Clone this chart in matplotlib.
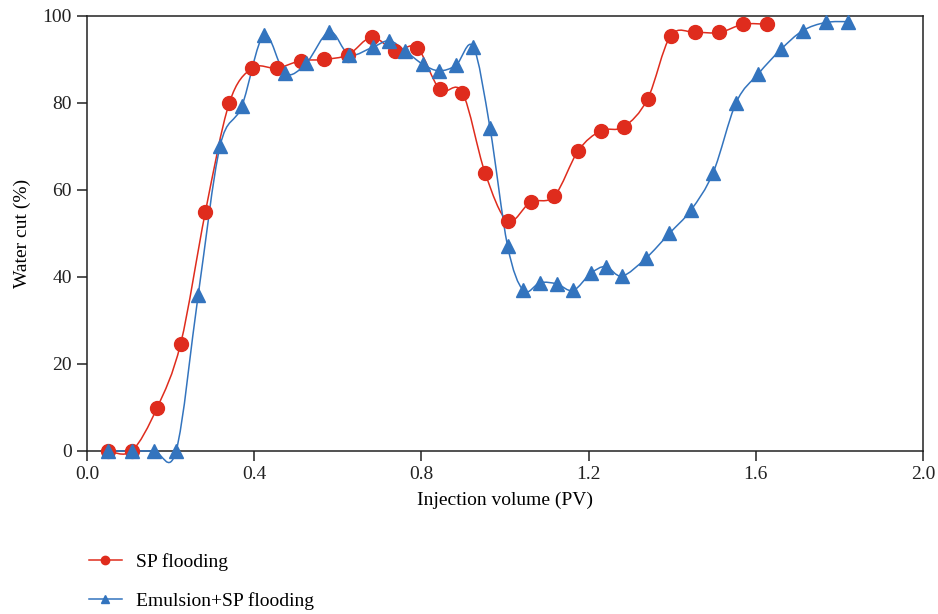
import matplotlib
matplotlib.use("Agg")
import matplotlib.pyplot as plt
import numpy as np
from matplotlib.lines import Line2D
from matplotlib.patches import PathPatch
from matplotlib.path import Path

plt.rcParams["font.family"] = ["Liberation Serif", "DejaVu Serif"]

sp_x = [0.051, 0.107, 0.167, 0.224, 0.283, 0.340, 0.395, 0.454, 0.511, 0.567, 0.625,
        0.681, 0.737, 0.790, 0.844, 0.898, 0.952, 1.006, 1.061, 1.118, 1.175, 1.229,
        1.284, 1.341, 1.396, 1.455, 1.513, 1.570, 1.626]
sp_y = [0.0, 0.0, 9.8, 24.7, 54.9, 79.9, 88.0, 88.0, 89.7, 90.0, 91.1,
        95.1, 92.0, 92.7, 83.1, 82.4, 64.0, 52.9, 57.2, 58.6, 69.0, 73.6,
        74.5, 80.9, 95.4, 96.2, 96.2, 98.1, 98.1]

em_x = [0.051, 0.107, 0.161, 0.213, 0.266, 0.318, 0.370, 0.423, 0.474, 0.524, 0.580,
        0.627, 0.683, 0.723, 0.761, 0.803, 0.842, 0.883, 0.924, 0.964, 1.006, 1.044,
        1.084, 1.124, 1.163, 1.205, 1.241, 1.280, 1.337, 1.393, 1.445, 1.498, 1.553,
        1.606, 1.660, 1.712, 1.767, 1.821]
em_y = [0.0, 0.0, 0.0, 0.0, 35.9, 70.0, 79.2, 95.6, 86.8, 89.1, 96.4,
        91.1, 92.8, 94.3, 92.0, 88.9, 87.4, 88.7, 92.9, 74.3, 47.2, 36.9,
        38.7, 38.4, 36.9, 40.8, 42.4, 40.2, 44.3, 50.0, 55.4, 64.0, 80.1,
        86.7, 92.3, 96.6, 98.5, 98.7]

labels = ["SP flooding", "Emulsion+SP flooding"]
red = "#DF2C1D"
blue = "#3374BE"


def smooth_path(x, y):
    pts = np.column_stack([x, y])
    n = len(pts)
    verts = [pts[0]]
    codes = [Path.MOVETO]
    for i in range(n - 1):
        p0 = pts[max(i - 1, 0)]
        p1 = pts[i]
        p2 = pts[i + 1]
        p3 = pts[min(i + 2, n - 1)]
        verts += [p1 + (p2 - p0) / 6, p2 - (p3 - p1) / 6, p2]
        codes += [Path.CURVE4] * 3
    return Path(verts, codes)


fig = plt.figure(figsize=(9.38, 6.14), dpi=100)
ax = fig.add_axes([0.0928, 0.2655, 0.8912, 0.7085])

for x, y, c, m, ms in [(sp_x, sp_y, red, "o", 10), (em_x, em_y, blue, "^", 10.5)]:
    ax.add_patch(PathPatch(smooth_path(x, y), facecolor="none", edgecolor=c,
                           lw=1.1, clip_on=False, zorder=3))
    ax.plot(x, y, ls="none", marker=m, ms=ms, color=c, mec=c, clip_on=False, zorder=4)

ax.set_xlim(0, 2.0)
ax.set_ylim(0, 100)
ax.set_xticks(np.arange(0, 2.01, 0.4))
ax.set_yticks(np.arange(0, 101, 20))
ax.xaxis.set_major_formatter(matplotlib.ticker.FormatStrFormatter("%.1f"))
ax.tick_params(direction="out", length=7, width=1.1, labelsize=14, colors="#222222",
               top=False, right=False, pad=4)
for s in ax.spines.values():
    s.set_linewidth(1.1)
    s.set_color("#222222")
ax.set_xlabel("Injection volume (PV)", fontsize=14, labelpad=6)
ax.set_ylabel("Water cut (%)", fontsize=14, labelpad=8)

handles = [
    Line2D([], [], color=red, marker="o", ms=6, lw=1.1),
    Line2D([], [], color=blue, marker="^", ms=6, lw=1.1),
]
fig.legend(handles, labels, loc="upper left", bbox_to_anchor=(0.076, 0.128),
           frameon=False, fontsize=14, handlelength=1.7, handletextpad=0.75,
           labelspacing=1.1)

fig.savefig("out.png", dpi=100)
